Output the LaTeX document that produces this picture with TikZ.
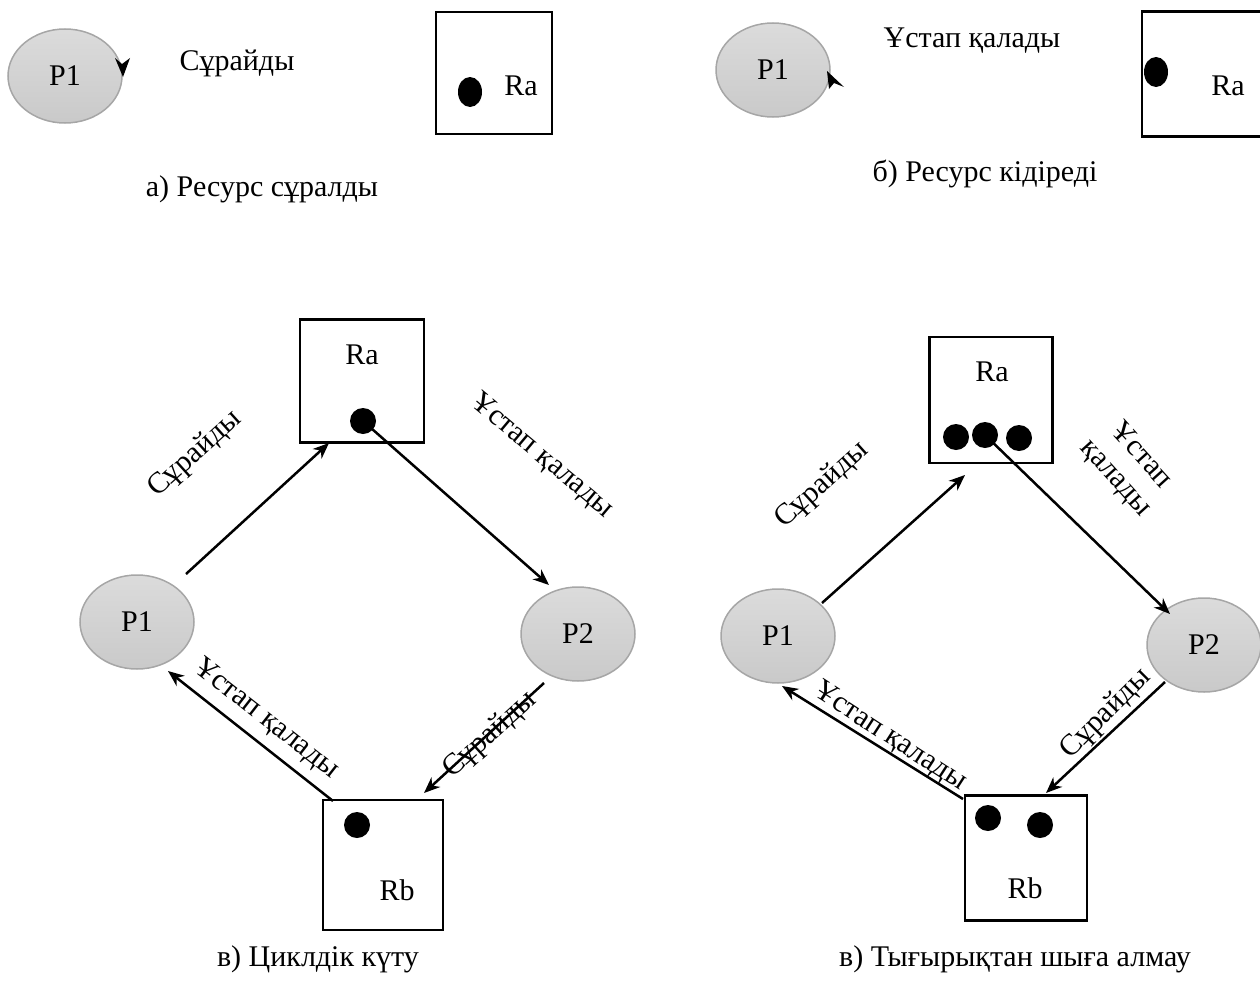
\documentclass[tikz,border=0pt]{standalone}
\usepackage{fontspec}
\setmainfont{Liberation Serif}
\usetikzlibrary{shapes.geometric,arrows.meta}
\begin{document}
\begin{tikzpicture}[x=1pt,y=-1pt,
  proc/.style={ellipse,draw=black!35,line width=1.5pt,top color=gray!28,bottom color=gray!42,minimum width=114pt,minimum height=94pt,inner sep=0pt,font=\fontsize{30}{36}\selectfont},
  res/.style={draw=black,line width=2.5pt,inner sep=0pt},
  tok/.style={circle,fill=black,minimum size=26pt,inner sep=0pt},
  tokv/.style={ellipse,fill=black,minimum width=24pt,minimum height=30pt,inner sep=0pt},
  lbl/.style={font=\fontsize{30}{36}\selectfont,inner sep=0pt},
  conn/.style={line width=2.5pt,-{Stealth[length=16pt,width=13pt,inset=5pt]}}]
\useasboundingbox (0,0) rectangle (1260,990);
% ---------- (a)
\node[proc] (aP1) at (65,76) {P1};
\node[res,minimum width=116pt,minimum height=122pt] (aRa) at (494,73) {};
\node[tokv] (aT) at (470,92) {};
\node[lbl] (aRaL) at (521,86) {Ra};
\node[lbl] (aReq) at (237,63) {Сұрайды};
\fill (122,64) -- (130,58) -- (123,77) -- (115,58) -- cycle;
\node[lbl] (aCap) at (262,189) {а) Ресурс сұралды};
% ---------- (b)
\node[proc] (bP1) at (773,70) {P1};
\node[res,minimum width=150pt,minimum height=125pt] (bRa) at (1217,74) {};
\node[tokv] (bT) at (1156,72) {};
\node[lbl] (bRaL) at (1228,86) {Ra};
\node[lbl] (bHold) at (972,41) {Ұстап қалады};
\fill (827,71) -- (844,87) -- (834,83) -- (829,89) -- cycle;
\node[lbl] (bCap) at (985,174) {б) Ресурс кідіреді};
% ---------- (c)
\node[res,minimum width=124pt,minimum height=123pt] (cRa) at (362,381) {};
\node[lbl] (cRaL) at (362,355) {Ra};
\node[tok] (cT) at (363,421) {};
\node[proc] (cP1) at (137,622) {P1};
\node[proc] (cP2) at (578,634) {P2};
\node[res,minimum width=120pt,minimum height=130pt] (cRb) at (383,865) {};
\node[tok] (cTb) at (357,825) {};
\node[lbl] (cRbL) at (397,890) {Rb};
\coordinate (c1s) at (186,574);
\coordinate (c1e) at (329,443);
\draw[conn] (c1s) -- (c1e);
\coordinate (c2e) at (549,585);
\draw[conn] (cT.center) -- (c2e);
\coordinate (c3s) at (544,683);
\coordinate (c3e) at (424,793);
\draw[conn] (c3s) -- (c3e);
\coordinate (c4s) at (333,801);
\coordinate (c4e) at (168,671);
\draw[conn] (c4s) -- (c4e);
\node[lbl,rotate=42] (cL1) at (195,454) {Сұрайды};
\node[lbl,rotate=-40] (cL2) at (542,456) {Ұстап қалады};
\node[lbl,rotate=42] (cL3) at (490,735) {Сұрайды};
\node[lbl,rotate=-38] (cL4) at (266,719) {Ұстап қалады};
\node[lbl] (cCap) at (318,959) {в) Циклдік күту};
% ---------- (d)
\node[res,minimum width=123pt,minimum height=126pt] (dRa) at (991,400) {};
\node[lbl] (dRaL) at (992,372) {Ra};
\node[tok] (dT1) at (956,437) {};
\node[tok] (dT2) at (985,435) {};
\node[tok] (dT3) at (1019,438) {};
\node[proc] (dP1) at (778,636) {P1};
\node[proc] (dP2) at (1204,645) {P2};
\node[res,minimum width=122pt,minimum height=125pt] (dRb) at (1026,858) {};
\node[tok] (dTb1) at (988,818) {};
\node[tok] (dTb2) at (1040,825) {};
\node[lbl] (dRbL) at (1025,888) {Rb};
\coordinate (d1s) at (822,603);
\coordinate (d1e) at (965,475);
\draw[conn] (d1s) -- (d1e);
\coordinate (d2e) at (1170,614);
\draw[conn] (dT2.center) -- (d2e);
\coordinate (d3s) at (1165,682);
\coordinate (d3e) at (1046,793);
\draw[conn] (d3s) -- (d3e);
\coordinate (d4s) at (963,799);
\coordinate (d4e) at (782,686);
\draw[conn] (d4s) -- (d4e);
\node[lbl,rotate=42] (dL1) at (822,485) {Сұрайды};
\node[lbl,rotate=-48,align=center,font=\fontsize{30}{34}\selectfont] (dL2) at (1128,467) {Ұстап\\қалады};
\node[lbl,rotate=45] (dL3) at (1106,714) {Сұрайды};
\node[lbl,rotate=-33] (dL4) at (890,737) {Ұстап қалады};
\node[lbl] (dCap) at (1015,959) {в) Тығырықтан шыға алмау};
\end{tikzpicture}
\end{document}
